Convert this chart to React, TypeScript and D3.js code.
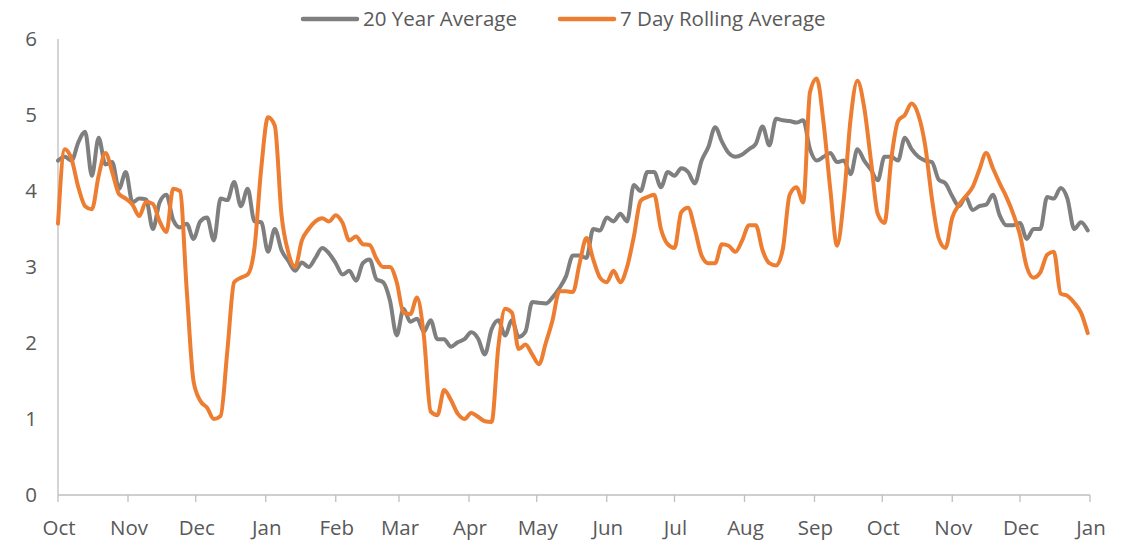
import React, { useEffect, useRef } from 'react';
import * as d3 from 'd3';

// one value every 3 days, starting 1 Oct
const startDate = new Date(2021, 9, 1);
const endDate = new Date(2023, 0, 1);
const stepDays = 3;

const twentyYearAvg = [
  4.40, 4.45, 4.40, 4.64, 4.78, 4.20, 4.70, 4.35, 4.38, 4.03,
  4.25, 3.85, 3.90, 3.89, 3.50, 3.85, 3.95, 3.62, 3.52, 3.57,
  3.37, 3.60, 3.65, 3.35, 3.90, 3.88, 4.12, 3.80, 4.03, 3.60,
  3.59, 3.20, 3.50, 3.22, 3.08, 2.95, 3.06, 3.00, 3.12, 3.25,
  3.18, 3.05, 2.90, 2.95, 2.82, 3.05, 3.10, 2.84, 2.80, 2.56,
  2.10, 2.45, 2.28, 2.32, 2.15, 2.30, 2.05, 2.05, 1.95, 2.01,
  2.05, 2.14, 2.06, 1.85, 2.18, 2.30, 2.10, 2.30, 2.08, 2.15,
  2.54, 2.53, 2.52, 2.60, 2.72, 2.88, 3.15, 3.15, 3.12, 3.50,
  3.48, 3.65, 3.60, 3.70, 3.60, 4.08, 4.00, 4.25, 4.25, 4.05,
  4.25, 4.20, 4.30, 4.25, 4.10, 4.40, 4.58, 4.84, 4.65, 4.50,
  4.45, 4.48, 4.55, 4.62, 4.85, 4.60, 4.95, 4.93, 4.92, 4.90,
  4.93, 4.55, 4.40, 4.45, 4.50, 4.38, 4.40, 4.22, 4.55, 4.40,
  4.28, 4.14, 4.45, 4.45, 4.40, 4.70, 4.55, 4.45, 4.40, 4.38,
  4.15, 4.10, 3.93, 3.80, 3.92, 3.75, 3.80, 3.82, 3.95, 3.68,
  3.55, 3.55, 3.58, 3.37, 3.50, 3.50, 3.92, 3.90, 4.04, 3.90,
  3.50, 3.59, 3.48,
];

const rollingAvg = [
  3.57, 4.55, 4.42, 4.05, 3.80, 3.76, 4.20, 4.50, 4.25, 3.96,
  3.90, 3.82, 3.67, 3.86, 3.83, 3.60, 3.46, 4.03, 4.00, 2.70,
  1.50, 1.24, 1.15, 1.00, 1.04, 1.90, 2.80, 2.86, 2.90, 3.25,
  4.30, 4.97, 4.86, 3.68, 3.19, 3.00, 3.35, 3.50, 3.60, 3.64,
  3.60, 3.68, 3.58, 3.35, 3.40, 3.30, 3.29, 3.11, 3.00, 3.00,
  2.80, 2.40, 2.38, 2.60, 2.10, 1.10, 1.05, 1.38, 1.25, 1.07,
  1.00, 1.08, 1.03, 0.97, 0.96, 1.95, 2.45, 2.40, 1.92, 1.98,
  1.85, 1.72, 2.00, 2.30, 2.68, 2.68, 2.67, 3.05, 3.38, 3.10,
  2.86, 2.80, 2.95, 2.80, 3.00, 3.40, 3.87, 3.92, 3.95, 3.50,
  3.30, 3.25, 3.72, 3.78, 3.50, 3.15, 3.05, 3.05, 3.30, 3.28,
  3.20, 3.35, 3.55, 3.55, 3.22, 3.05, 3.02, 3.24, 3.95, 4.05,
  3.85, 5.30, 5.48, 4.90, 4.02, 3.28, 3.90, 4.95, 5.45, 5.10,
  4.40, 3.70, 3.58, 4.42, 4.92, 5.00, 5.15, 5.00, 4.60, 3.90,
  3.38, 3.25, 3.65, 3.82, 3.93, 4.05, 4.28, 4.50, 4.30, 4.10,
  3.92, 3.70, 3.42, 3.00, 2.86, 2.93, 3.16, 3.20, 2.65, 2.62,
  2.53, 2.40, 2.13,
];

const yTicks = [0, 1, 2, 3, 4, 5, 6];
const seriesNames = ['20 Year Average', '7 Day Rolling Average'];
const seriesColors = ['#7f7f7f', '#ed7d31'];

const dates = twentyYearAvg.map((_, i) => d3.timeDay.offset(startDate, i * stepDays));

const App = () => {
  const ref = useRef<SVGSVGElement | null>(null);

  useEffect(() => {
    if (!ref.current) return;
    const width = 1135;
    const height = 540;
    const left = 58, right = 1090, top = 39, bottom = 495;
    const font = '"Open Sans", sans-serif';
    const textColor = '#595959';
    const fontSize = 20.5;

    const svg = d3.select(ref.current);
    svg.selectAll('*').remove();
    svg.attr('width', width).attr('height', height);

    const x = d3.scaleTime().domain([startDate, endDate]).range([left, right]);
    const y = d3.scaleLinear().domain([0, 6]).range([bottom, top]);

    // y axis
    svg.append('line')
      .attr('x1', left).attr('x2', left)
      .attr('y1', top).attr('y2', bottom)
      .attr('stroke', '#bfbfbf').attr('stroke-width', 1.3);

    svg.selectAll('.ylab')
      .data(yTicks)
      .enter().append('text')
      .attr('x', 37)
      .attr('y', d => y(d))
      .attr('dy', '0.35em')
      .attr('text-anchor', 'end')
      .attr('font-family', font)
      .attr('font-size', fontSize)
      .attr('fill', textColor)
      .text(d => d);

    // x axis
    const months = d3.timeMonth.range(startDate, d3.timeDay.offset(endDate, 1));
    svg.append('line')
      .attr('x1', left).attr('x2', right)
      .attr('y1', bottom).attr('y2', bottom)
      .attr('stroke', '#bfbfbf').attr('stroke-width', 1.3);

    svg.selectAll('.xtick')
      .data(months)
      .enter().append('line')
      .attr('x1', d => x(d)).attr('x2', d => x(d))
      .attr('y1', bottom).attr('y2', bottom + 7)
      .attr('stroke', '#bfbfbf').attr('stroke-width', 1.3);

    svg.selectAll('.xlab')
      .data(months)
      .enter().append('text')
      .attr('x', d => x(d) + 1)
      .attr('y', 535)
      .attr('text-anchor', 'middle')
      .attr('font-family', font)
      .attr('font-size', fontSize)
      .attr('fill', textColor)
      .text(d => d3.timeFormat('%b')(d));

    // lines
    const line = d3.line<number>()
      .x((_, i) => x(dates[i]))
      .y(d => y(d))
      .curve(d3.curveMonotoneX);

    [twentyYearAvg, rollingAvg].forEach((values, k) => {
      svg.append('path')
        .attr('d', line(values))
        .attr('fill', 'none')
        .attr('stroke', seriesColors[k])
        .attr('stroke-width', 4)
        .attr('stroke-linejoin', 'round')
        .attr('stroke-linecap', 'round');
    });

    // legend
    const legendX = [303, 560];
    seriesNames.forEach((name, k) => {
      const g = svg.append('g').attr('transform', `translate(${legendX[k]}, 19)`);
      g.append('line')
        .attr('x1', 0).attr('x2', 54)
        .attr('stroke', seriesColors[k])
        .attr('stroke-width', 4.5)
        .attr('stroke-linecap', 'round');
      g.append('text')
        .attr('x', 60)
        .attr('dy', '0.35em')
        .attr('font-family', font)
        .attr('font-size', fontSize)
        .attr('fill', textColor)
        .text(name);
    });
  }, []);

  return <svg ref={ref} style={{ position: 'absolute', left: 0, top: 0 }} />;
};

export default App;
